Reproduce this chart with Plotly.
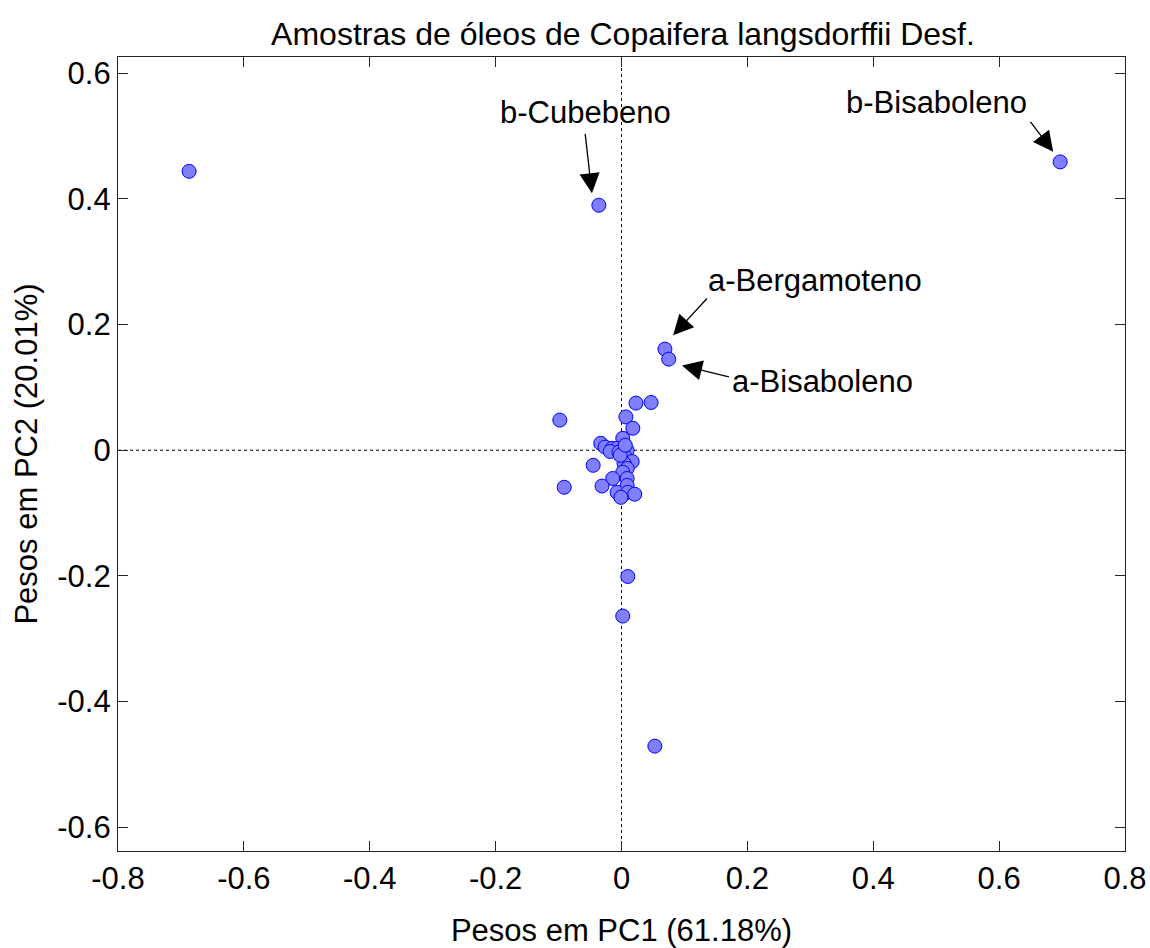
import plotly.graph_objects as go

# PCA loadings (PC1, PC2) for the oil constituents
pc1 = [-0.687, -0.036, 0.697, 0.069, 0.075, 0.023, 0.047, 0.007, 0.018, -0.098,
       -0.091, 0.010, 0.002, 0.053,
       0.002, -0.033, -0.026, -0.015, -0.007, 0.001, 0.009, -0.018, -0.004, 0.006,
       0.017, -0.045, 0.004, 0.009, 0.002, -0.014, 0.009, -0.031, 0.009, -0.007,
       0.010, 0.021, -0.001, -0.002, 0.006]
pc2 = [0.444, 0.390, 0.459, 0.161, 0.145, 0.075, 0.076, 0.053, 0.035, 0.048,
       -0.059, -0.201, -0.264, -0.471,
       0.019, 0.011, 0.005, 0.003, 0.003, 0.000, 0.000, -0.002, -0.003, -0.011,
       -0.018, -0.024, -0.021, -0.029, -0.035, -0.045, -0.045, -0.057, -0.056, -0.067,
       -0.067, -0.070, -0.075, -0.008, 0.008]

# Labelled compounds: name, text position, arrow tail, arrow tip
labels = ["b-Cubebeno", "a-Bergamoteno", "a-Bisaboleno", "b-Bisaboleno"]
label_x = [-0.058, 0.307, 0.320, 0.500]
label_y = [0.537, 0.271, 0.110, 0.554]
tail_x = [-0.058, 0.138, 0.173, 0.648]
tail_y = [0.506, 0.244, 0.116, 0.525]
tip_x = [-0.047, 0.082, 0.096, 0.686]
tip_y = [0.409, 0.183, 0.135, 0.475]

x_ticks = [-0.8, -0.6, -0.4, -0.2, 0, 0.2, 0.4, 0.6, 0.8]
y_ticks = [-0.6, -0.4, -0.2, 0, 0.2, 0.4, 0.6]

FONT = "Liberation Sans, Arial, sans-serif"
FS = 31


def fmt(v):
    return "0" if v == 0 else ("%g" % v)


fig = go.Figure()
fig.add_trace(go.Scatter(
    x=pc1, y=pc2, mode="markers",
    marker=dict(size=14, color="#7f7fff", line=dict(color="#0000ff", width=1)),
    showlegend=False, hoverinfo="x+y",
))

# dotted reference lines through the origin
fig.add_shape(type="line", x0=-0.8, x1=0.8, y0=0, y1=0, xref="x", yref="y",
              line=dict(color="black", width=1, dash="dot"), layer="below")
fig.add_shape(type="line", x0=0, x1=0, y0=-0.638, y1=0.626, xref="x", yref="y",
              line=dict(color="black", width=1, dash="dot"), layer="below")

annotations = []
for name, lx, ly in zip(labels, label_x, label_y):
    annotations.append(dict(x=lx, y=ly, xref="x", yref="y", text=name,
                            showarrow=False, font=dict(family=FONT, size=FS, color="black")))
for tx, ty, hx, hy in zip(tail_x, tail_y, tip_x, tip_y):
    annotations.append(dict(x=hx, y=hy, ax=tx, ay=ty, xref="x", yref="y",
                            axref="x", ayref="y", text="", showarrow=True,
                            arrowhead=2, arrowsize=3.1, arrowwidth=1.3,
                            arrowcolor="black"))

fig.update_layout(
    width=1150, height=948,
    margin=dict(l=118, r=25, t=57, b=97, autoexpand=False),
    paper_bgcolor="white", plot_bgcolor="white",
    title=dict(text="Amostras de óleos de Copaifera langsdorffii Desf.",
               x=623 / 1150, xanchor="center", y=1 - 34 / 948, yanchor="middle",
               font=dict(family=FONT, size=32, color="black")),
    font=dict(family=FONT, size=FS, color="black"),
    annotations=annotations,
)
fig.update_xaxes(
    range=[-0.8, 0.8], tickvals=x_ticks, ticktext=[fmt(v) for v in x_ticks],
    ticks="inside", ticklen=10, tickcolor="#262626", mirror="ticks",
    showline=True, linecolor="#262626", linewidth=1.3, showgrid=False, zeroline=False,
    tickfont=dict(family=FONT, size=FS), automargin=False,
    title=dict(text="Pesos em PC1 (61.18%)", font=dict(family=FONT, size=FS), standoff=32),
)
fig.update_yaxes(
    range=[-0.638, 0.626], tickvals=y_ticks, ticktext=[fmt(v) for v in y_ticks],
    ticks="inside", ticklen=10, tickcolor="#262626", mirror="ticks",
    showline=True, linecolor="#262626", linewidth=1.3, showgrid=False, zeroline=False,
    tickfont=dict(family=FONT, size=FS), automargin=False,
    title=dict(text="Pesos em PC2 (20.01%)", font=dict(family=FONT, size=FS), standoff=10),
)

fig.write_html("out.html")
